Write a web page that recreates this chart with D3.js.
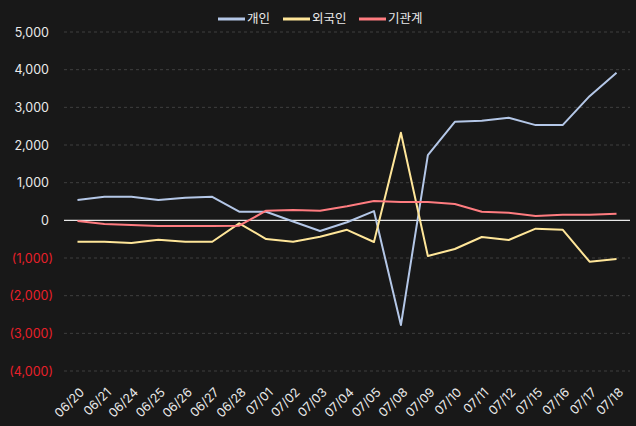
<!DOCTYPE html>
<html><head><meta charset="utf-8">
<script src="https://cdn.jsdelivr.net/npm/d3@7"></script>
<style>
html,body{margin:0;padding:0;background:#181818;}
text{font-family:"Noto Sans CJK KR","Noto Sans",sans-serif;}
</style></head>
<body><svg id="c" width="636" height="426"></svg>
<script>
const categories = ["06/20","06/21","06/24","06/25","06/26","06/27","06/28","07/01","07/02","07/03","07/04","07/05","07/08","07/09","07/10","07/11","07/12","07/15","07/16","07/17","07/18"];
const individual = [540,626,626,538,600,626,229,229,-30,-283,-50,246,-2780,1732,2616,2642,2722,2528,2528,3297,3915];
const foreign = [-568,-568,-602,-514,-568,-568,-80,-496,-568,-434,-252,-575,2324,-947,-761,-443,-523,-222,-249,-1098,-1027];
const institution = [-18,-98,-125,-151,-151,-151,-143,255,273,255,375,512,485,485,432,228,202,114,149,149,175];
const seriesNames = ["개인","외국인","기관계"];
const seriesColors = ["#b4c7e7","#ffe699","#ff7c80"];
const yTicks = [5000,4000,3000,2000,1000,0,-1000,-2000,-3000,-4000];

const svg = d3.select("#c");
const W=636,H=426;
const m={left:64,right:6,top:32,bottom:55};
const x = d3.scalePoint().domain(categories).range([m.left,W-m.right]).padding(0.5);
const y = d3.scaleLinear().domain([-4000,5000]).range([371,32]);

// grid
svg.append("g").selectAll("line").data(yTicks.filter(d=>d!==0)).join("line")
  .attr("x1",m.left).attr("x2",W-m.right)
  .attr("y1",d=>y(d)).attr("y2",d=>y(d))
  .attr("stroke","#3f3f3f").attr("stroke-dasharray","3,3").attr("stroke-width",1);

// y axis labels
const fmt = d3.format(",");
const yAxis = d3.axisLeft(y).tickValues(yTicks).tickSize(0).tickPadding(0)
  .tickFormat(d=> d<0 ? "("+fmt(-d)+")" : fmt(d));
const ya = svg.append("g").attr("transform",`translate(${m.left-11},0)`).call(yAxis);
ya.select(".domain").remove();
ya.selectAll("text").attr("fill",d=>d<0?"#e8202a":"#eaeaea").attr("font-size",12.5)
  .attr("x",d=>d<0?0:-4)
  .style("font-family","Inter,'Noto Sans',sans-serif");

// zero line
svg.append("line").attr("x1",m.left).attr("x2",W-m.right)
  .attr("y1",y(0)).attr("y2",y(0)).attr("stroke","#e8e8e8").attr("stroke-width",1.2);

// x axis
const xAxis = d3.axisBottom(x).tickSize(0).tickPadding(0);
const xa = svg.append("g").attr("transform",`translate(0,381)`).call(xAxis);
xa.select(".domain").remove();
xa.selectAll("text").attr("fill","#eaeaea").attr("font-size",12.5)
  .style("font-family","Inter,'Noto Sans',sans-serif")
  .attr("text-anchor","end").attr("dy","0.35em")
  .attr("transform","translate(4,9) rotate(-45)");

// lines
const data = [individual, foreign, institution];
const line = d3.line().x((d,i)=>x(categories[i])).y(d=>y(d));
data.forEach((s,k)=>{
  svg.append("path").datum(s).attr("d",line).attr("fill","none")
    .attr("stroke",seriesColors[k]).attr("stroke-width",2).attr("stroke-linejoin","round");
});

// legend
const legendX = [218,283,359];
const lg = svg.append("g");
seriesNames.forEach((n,k)=>{
  lg.append("line").attr("x1",legendX[k]).attr("x2",legendX[k]+27).attr("y1",19).attr("y2",19)
    .attr("stroke",seriesColors[k]).attr("stroke-width",3);
  lg.append("text").attr("x",legendX[k]+29).attr("y",19).attr("dy","0.35em")
    .attr("fill","#eaeaea").attr("font-size",12.5).text(n);
});
</script></body></html>
